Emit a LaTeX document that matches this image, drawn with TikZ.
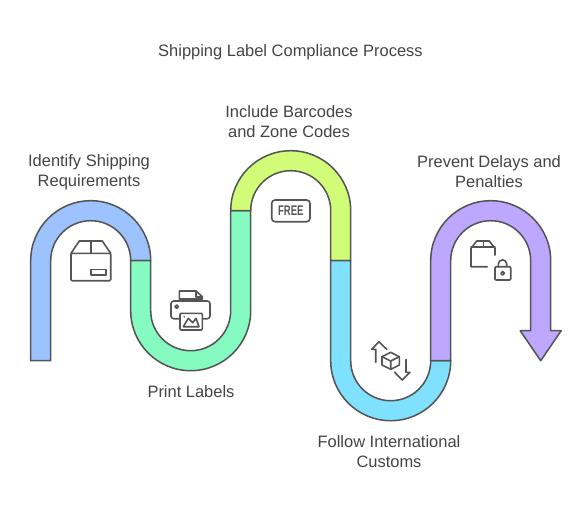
\documentclass[tikz,border=0pt]{standalone}
\usepackage{fontspec}
\setmainfont{Liberation Sans}
\definecolor{ink}{HTML}{555555}
\definecolor{txt}{HTML}{444444}
\definecolor{cblue}{HTML}{9DC3FF}
\definecolor{cgreen}{HTML}{85FBC1}
\definecolor{cyellow}{HTML}{D1FC78}
\definecolor{ccyan}{HTML}{80E1FF}
\definecolor{cpurple}{HTML}{BEA8FF}
\tikzset{
  band/.style={draw=ink,line width=1.15pt,line join=round},
  icon/.style={draw=ink,line width=1.2pt,line join=round,line cap=round},
  label/.style={text=txt,font=\fontsize{12.35}{15}\selectfont,align=center,inner sep=0pt,anchor=center},
}
\begin{document}
\begin{tikzpicture}[x=0.75pt,y=-0.75pt]
\useasboundingbox (0,0) rectangle (587,512);
% bands
\draw[band,fill=cblue] (30.7,360.7) -- (30.7,260.7) arc[start angle=180,end angle=360,radius=60] -- (130.7,260.7) arc[start angle=360,end angle=180,radius=40] -- (50.7,360.7) -- cycle;
\draw[band,fill=cgreen] (130.7,260.7) -- (130.7,310.7) arc[start angle=180,end angle=0,radius=60] -- (250.7,210.7) -- (230.7,210.7) -- (230.7,310.7) arc[start angle=0,end angle=180,radius=40] -- (150.7,260.7) -- cycle;
\draw[band,fill=cyellow] (230.7,210.7) arc[start angle=180,end angle=360,radius=60] -- (350.7,260.7) -- (330.7,260.7) -- (330.7,210.7) arc[start angle=360,end angle=180,radius=40] -- cycle;
\draw[band,fill=ccyan] (330.7,260.7) -- (330.7,360.7) arc[start angle=180,end angle=0,radius=60] -- (430.7,360.7) arc[start angle=0,end angle=180,radius=40] -- (350.7,260.7) -- cycle;
\draw[band,fill=cpurple] (430.7,360.7) -- (430.7,260.7) arc[start angle=180,end angle=360,radius=60] -- (550.7,330.7) -- (561.2,330.7) -- (540.7,360.7) -- (520.2,330.7) -- (530.7,330.7) -- (530.7,260.7) arc[start angle=360,end angle=180,radius=40] -- (450.7,360.7) -- cycle;
% labels
\node[label] (title) at (290.5,52.7) {Shipping Label Compliance Process};
\node[label] (l1) at (89,172.7) {Identify Shipping\\Requirements};
\node[label] (l2) at (191,391.2) {Print Labels};
\node[label] (l3) at (289,121.2) {Include Barcodes\\and Zone Codes};
\node[label] (l4) at (389,451.2) {Follow International\\Customs};
\node[label] (l5) at (489,171.2) {Prevent Delays and\\Penalties};
% box icon
\draw[icon,rounded corners=0.8pt] (71,253.3) rectangle (110.7,280.7);
\draw[icon] (71,253.3) -- (79.3,241) -- (102.3,241) -- (110.7,253.3);
\draw[icon] (90.7,241) -- (90.7,253.3);
\draw[icon] (91,269.3) rectangle (105.7,275);
% printer icon
\draw[icon] (179.3,299) -- (179.3,291) -- (196,291) -- (202.3,296.7) -- (202.3,299) -- cycle;
\draw[icon] (196,291) -- (196,296.7) -- (202.3,296.7);
\draw[icon,rounded corners=2pt] (180,318.7) -- (171,318.7) -- (171,301) -- (210,301) -- (210,318.7) -- (202.3,318.7);
\draw[icon] (176.7,306.7) circle[radius=1.7];
\draw[icon,rounded corners=0.8pt] (180,313.3) rectangle (202.3,330);
\draw[icon] (183.3,326.7) -- (188.3,318.3) -- (192.7,322.7) -- (196,318.3) -- (199,326.7) -- cycle;
\fill[ink] (184.3,316.7) circle[radius=0.9];
% free icon
\draw[icon,rounded corners=2.5pt] (271.7,200) rectangle (310,221.7);
\node[text=ink,font=\bfseries\fontsize{10.5}{10.5}\selectfont,inner sep=0pt,xscale=0.68] (free) at (290.8,210.9) {FREE};
% cube and arrows icon
\draw[icon] (375.7,362.3) -- (375.7,349.3) -- (371.7,349.3) -- (379,341.7) -- (386.7,349.3);
\draw[icon] (406,359.3) -- (406,372.3) -- (410,372.3) -- (402.3,380) -- (394.7,372.3);
\draw[icon] (390.7,352.3) -- (399.3,356.7) -- (399.3,365) -- (390.7,369.3) -- (382,365) -- (382,356.7) -- cycle;
\draw[icon] (382,356.7) -- (390.7,361) -- (399.3,356.7) (390.7,361) -- (390.7,369.3);
% box and lock icon
\draw[icon] (487.3,266.7) -- (471,266.7) -- (471,248.3) -- (476.7,241) -- (489.3,241) -- (495,248.3) -- (495,255);
\draw[icon] (471,246.7) -- (495,246.7) (483.3,241) -- (483.3,246.7);
\draw[icon,rounded corners=0.8pt] (495,266.7) rectangle (510.7,280);
\draw[icon] (498.3,266.7) -- (498.3,264) arc[start angle=180,end angle=360,radius=4.2] -- (506.7,266.7);
\draw[icon] (502.7,273.3) circle[radius=1.8];
\end{tikzpicture}
\end{document}
